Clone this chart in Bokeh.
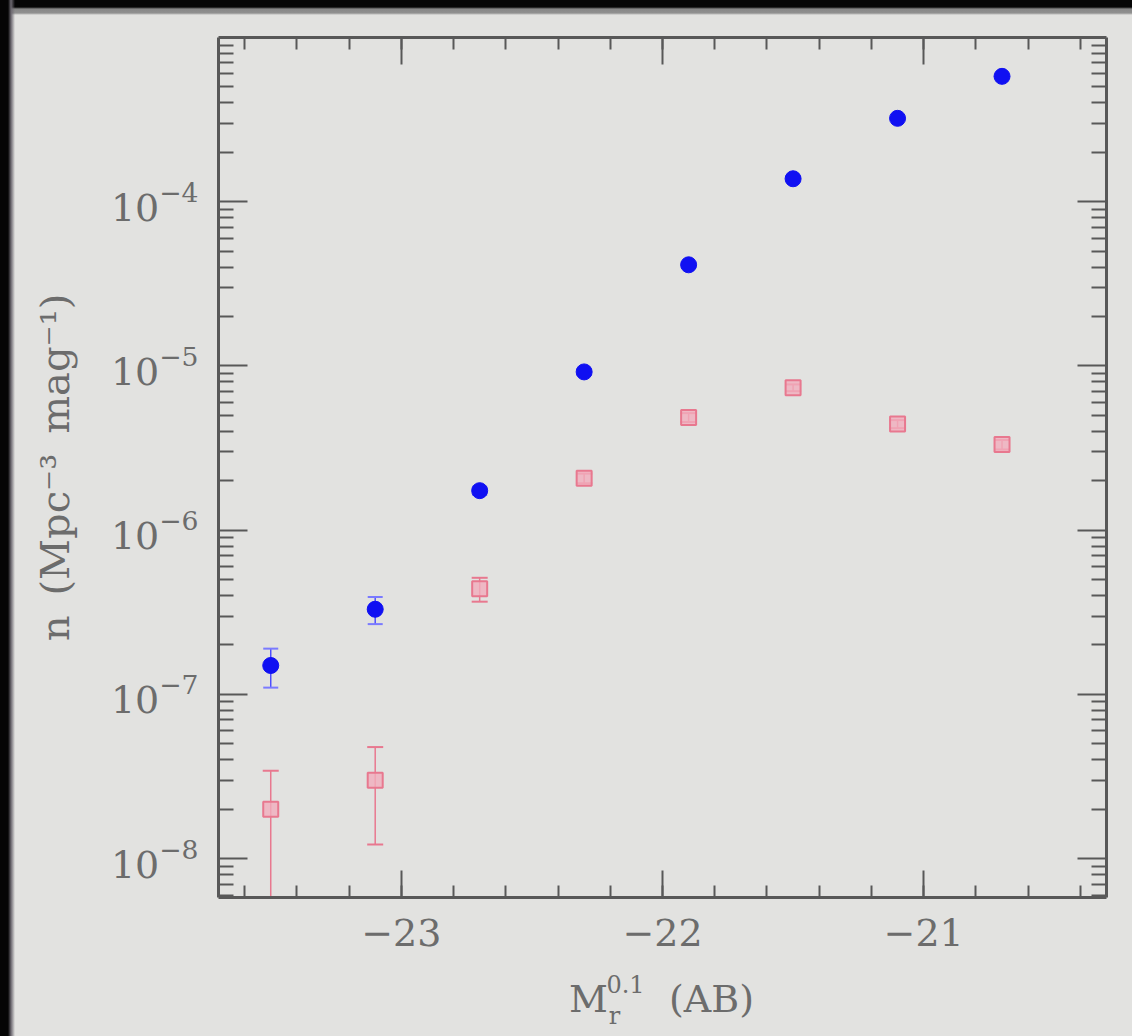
from bokeh.plotting import figure
from bokeh.models import (ColumnDataSource, Whisker, TeeHead, LinearAxis, LogAxis,
                          FixedTicker, SingleIntervalTicker, CustomJSTickFormatter,
                          Range1d)
from bokeh.embed import file_html
from bokeh.resources import INLINE

# Absolute magnitude bins, M_r^0.1 (AB)
mag = [-23.5, -23.1, -22.7, -22.3, -21.9, -21.5, -21.1, -20.7]

# Number density of the full sample (Mpc^-3 mag^-1) and its 1-sigma error
n_all = [1.5e-7, 3.3e-7, 1.74e-6, 9.2e-6, 4.13e-5, 1.38e-4, 3.22e-4, 5.8e-4]
n_all_err = [0.4e-7, 0.62e-7, 0.1e-6, 0.4e-6, 1.5e-6, 4.0e-6, 8.0e-6, 1.3e-5]

# Number density of the subsample and its 1-sigma error
n_sub = [2.0e-8, 3.0e-8, 4.4e-7, 2.07e-6, 4.86e-6, 7.37e-6, 4.43e-6, 3.32e-6]
n_sub_err = [1.43e-8, 1.78e-8, 0.73e-7, 0.14e-6, 0.30e-6, 0.35e-6, 0.25e-6, 0.22e-6]

# Decades labelled on the density axis
y_decades = [1e-8, 1e-7, 1e-6, 1e-5, 1e-4]

X_LO, X_HI = -23.7, -20.3
Y_LO, Y_HI = 5.8e-9, 1e-3
FRAME_W = 888

BG = "#e2e2e0"
AXC = "#585858"
TXT = "#6c6c6c"
FONT = "DejaVu Serif"
BLUE = "#1010f2"
PINK_LINE = "#e8788f"
PINK_FILL = "#f1aebd"

src_all = ColumnDataSource(dict(
    x=mag, y=n_all,
    lo=[v - e for v, e in zip(n_all, n_all_err)],
    hi=[v + e for v, e in zip(n_all, n_all_err)],
))
src_sub = ColumnDataSource(dict(
    x=mag, y=n_sub,
    lo=[v - e for v, e in zip(n_sub, n_sub_err)],
    hi=[v + e for v, e in zip(n_sub, n_sub_err)],
))

p = figure(
    width=1132, height=1036,
    y_axis_type="log",
    x_range=Range1d(X_LO, X_HI),
    y_range=Range1d(Y_LO, Y_HI),
    output_backend="svg", toolbar_location=None,
    min_border_left=218, min_border_right=26,
    min_border_top=37, min_border_bottom=139,
    background_fill_color=BG,
)
p.border_fill_alpha = 0
p.outline_line_color = None
p.grid.visible = False
# slide edges: dark bands along the top and left
p.styles = {"background": (
    "linear-gradient(to right, #050505 0px, #050505 8px, #6d6971 11px, rgba(0,0,0,0) 15px) no-repeat, "
    "linear-gradient(to bottom, #050505 0px, #050505 7px, #878787 9px, #909090 13px, rgba(0,0,0,0) 15px) no-repeat, "
    + BG
)}

x_ticker = SingleIntervalTicker(interval=1, num_minor_ticks=5)
y_ticker = FixedTicker(
    ticks=y_decades,
    minor_ticks=[m * 10.0 ** e for e in range(-9, -3) for m in range(2, 10)],
)
blank = CustomJSTickFormatter(code="return '';")


def frame_axis(ax, major_len, minor_len):
    ax.axis_line_color = AXC
    ax.axis_line_width = 3
    ax.major_tick_line_color = AXC
    ax.major_tick_line_width = 2
    ax.minor_tick_line_color = AXC
    ax.minor_tick_line_width = 2
    ax.major_tick_in = major_len
    ax.major_tick_out = 0
    ax.minor_tick_in = minor_len
    ax.minor_tick_out = 0
    ax.major_label_text_font = FONT
    ax.major_label_text_font_size = "38px"
    ax.major_label_text_color = TXT


# bottom axis
xb = p.xaxis[0]
xb.ticker = x_ticker
xb.formatter = CustomJSTickFormatter(
    code="return (tick < 0 ? '\u2212' : '') + Math.abs(tick).toFixed(0);")
frame_axis(xb, 27, 12)
xb.major_label_standoff = 21

# left axis
yl = p.yaxis[0]
yl.ticker = y_ticker
frame_axis(yl, 29, 15)
yl.major_label_standoff = 20
yl.axis_label = "n\u2002(Mpc\u207b\u00b3\u2002mag\u207b\u00b9)"
yl.axis_label_text_font = FONT
yl.axis_label_text_font_size = "40px"
yl.axis_label_text_font_style = "normal"
yl.axis_label_text_color = TXT
yl.axis_label_standoff = 30

# top and right axes: ticks only
xt = LinearAxis(ticker=x_ticker, formatter=blank)
frame_axis(xt, 27, 12)
xt.major_label_standoff = 0
p.add_layout(xt, "above")

yr = LogAxis(ticker=y_ticker, formatter=blank)
frame_axis(yr, 29, 15)
yr.major_label_standoff = 0
p.add_layout(yr, "right")


# x-axis title "M_r^0.1 (AB)": each piece is a label row placed under the
# bottom axis at a given horizontal pixel offset from the frame's left edge
def at_x(dx):
    return X_LO + dx * (X_HI - X_LO) / FRAME_W


def title_row(texts, centers_px, size, standoff):
    ax = LinearAxis(
        ticker=FixedTicker(ticks=[at_x(c) for c in centers_px], minor_ticks=[]),
        formatter=CustomJSTickFormatter(args=dict(texts=texts),
                                        code="return texts[index];"),
    )
    ax.axis_line_color = None
    ax.major_tick_line_color = None
    ax.minor_tick_line_color = None
    ax.major_tick_in = 0
    ax.major_tick_out = 0
    ax.minor_tick_in = 0
    ax.minor_tick_out = 0
    ax.major_label_text_font = FONT
    ax.major_label_text_font_size = size
    ax.major_label_text_color = TXT
    ax.major_label_standoff = standoff
    p.add_layout(ax, "below")


title_row(["0.1"], [407], "24px", 26)
title_row(["r"], [396], "24px", 6)
title_row(["M", "(AB)"], [370, 493], "38px", -56)

# error bars
w_all = Whisker(
    source=src_all, base="x", upper="hi", lower="lo", dimension="height",
    line_color="#4d4dff", line_width=1.5, level="underlay",
    upper_head=TeeHead(size=15, line_color="#7a7aff", line_width=2),
    lower_head=TeeHead(size=15, line_color="#7a7aff", line_width=2),
)
p.add_layout(w_all)

w_sub = Whisker(
    source=src_sub, base="x", upper="hi", lower="lo", dimension="height",
    line_color=PINK_LINE, line_width=1.5,
    upper_head=TeeHead(size=16, line_color=PINK_LINE, line_width=2),
    lower_head=TeeHead(size=16, line_color=PINK_LINE, line_width=2),
)

# markers
p.scatter("x", "y", source=src_all, marker="circle", size=16,
          fill_color=BLUE, line_color=BLUE)
p.scatter("x", "y", source=src_sub, marker="square", size=15,
          fill_color=PINK_FILL, fill_alpha=0.8, line_color=PINK_LINE, line_width=2)
p.add_layout(w_sub)

open("out.html", "w").write(file_html(p, INLINE))
